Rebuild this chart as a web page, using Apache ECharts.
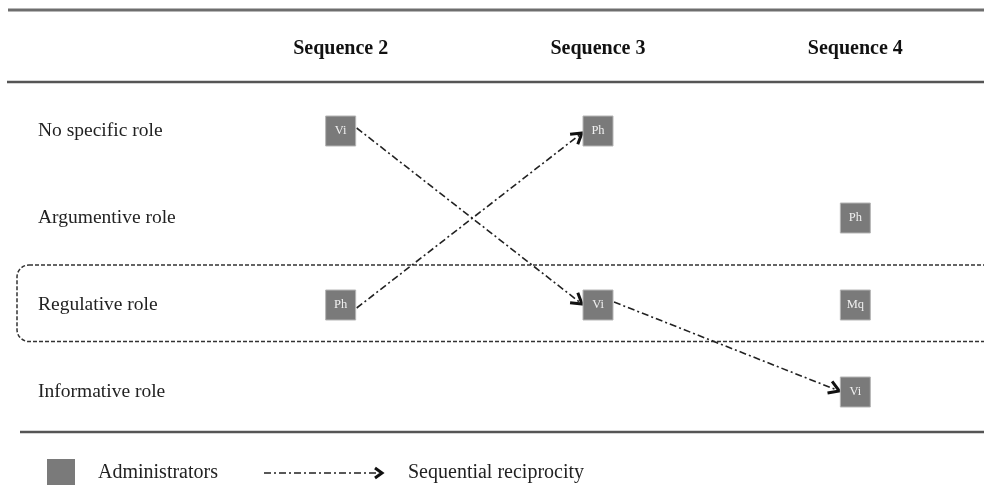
<!DOCTYPE html>
<html>
<head>
<meta charset="utf-8">
<script src="https://cdn.jsdelivr.net/npm/echarts@6/dist/echarts.min.js"></script>
<style>
html,body{margin:0;padding:0;background:#fff;}
#chart{width:984px;height:485px;}
</style>
</head>
<body>
<div id="chart"></div>
<script>
// ---- data ----
var sequences = ['Sequence 2', 'Sequence 3', 'Sequence 4'];
var roles = ['No specific role', 'Argumentive role', 'Regulative role', 'Informative role'];
// administrators: [sequence, role, code]
var administrators = [
  ['Sequence 2', 'No specific role', 'Vi'],
  ['Sequence 3', 'No specific role', 'Ph'],
  ['Sequence 4', 'Argumentive role', 'Ph'],
  ['Sequence 2', 'Regulative role', 'Ph'],
  ['Sequence 3', 'Regulative role', 'Vi'],
  ['Sequence 4', 'Regulative role', 'Mq'],
  ['Sequence 4', 'Informative role', 'Vi']
];
// sequential reciprocity: [fromSeq, fromRole, toSeq, toRole]
var reciprocity = [
  ['Sequence 2', 'No specific role', 'Sequence 3', 'Regulative role'],
  ['Sequence 2', 'Regulative role', 'Sequence 3', 'No specific role'],
  ['Sequence 3', 'Regulative role', 'Sequence 4', 'Informative role']
];
var highlightedRole = 'Regulative role';
var legendLabels = ['Administrators', 'Sequential reciprocity'];

// ---- chart ----
var SERIF = '"Liberation Serif","Times New Roman",serif';
var BOX = 30;
var DASHDOT = [7, 3, 2, 3];
var chart = echarts.init(document.getElementById('chart'));

function chevron(tipX, tipY, ang, len) {
  var a1 = ang + Math.PI - 0.55, a2 = ang + Math.PI + 0.55;
  return [[tipX + len * Math.cos(a1), tipY + len * Math.sin(a1)], [tipX, tipY], [tipX + len * Math.cos(a2), tipY + len * Math.sin(a2)]];
}

chart.setOption({
  animation: false,
  backgroundColor: '#fff',
  grid: { left: 212, width: 775, top: 87.5, height: 348, containLabel: false },
  xAxis: {
    type: 'category', data: sequences, position: 'top', boundaryGap: true,
    axisLine: { show: false }, axisTick: { show: false }, splitLine: { show: false },
    axisLabel: { margin: 29, fontFamily: SERIF, fontWeight: 'bold', fontSize: 20, color: '#111' }
  },
  yAxis: {
    type: 'category', data: roles, inverse: true, boundaryGap: true,
    axisLine: { show: false }, axisTick: { show: false }, splitLine: { show: false },
    axisLabel: { margin: 174, align: 'left', fontFamily: SERIF, fontSize: 19.5, color: '#222' }
  },
  series: [
    {
      type: 'custom',
      name: 'highlight',
      data: [[highlightedRole]],
      encode: { y: 0 },
      renderItem: function (params, api) {
        var p = api.coord([0, api.value(0)]);
        var band = api.size([0, 1])[1];
        return {
          type: 'rect',
          shape: { x: 17, y: p[1] - band * 0.46, width: 1000, height: band * 0.88, r: 12 },
          style: { fill: 'none', stroke: '#333', lineWidth: 1.5, lineDash: [4, 2] },
          silent: true
        };
      },
      z: 1
    },
    {
      type: 'custom',
      name: legendLabels[1],
      data: reciprocity,
      encode: { x: [0, 2], y: [1, 3] },
      renderItem: function (params, api) {
        var s = api.coord([api.value(0), api.value(1)]);
        var t = api.coord([api.value(2), api.value(3)]);
        var x1 = s[0] + BOX / 2 + 1, y1 = s[1] + (t[1] > s[1] ? -3 : 3);
        var x2 = t[0] - BOX / 2 - 1, y2 = t[1] + (t[1] > s[1] ? -1 : 2);
        var ang = Math.atan2(y2 - y1, x2 - x1);
        return {
          type: 'group',
          children: [
            { type: 'line', shape: { x1: x1, y1: y1, x2: x2, y2: y2 },
              style: { stroke: '#222', lineWidth: 1.6, lineDash: DASHDOT } },
            { type: 'polyline', shape: { points: chevron(x2, y2, ang, 12) },
              style: { stroke: '#111', lineWidth: 3, fill: 'none' } }
          ]
        };
      },
      z: 3
    },
    {
      type: 'scatter',
      name: legendLabels[0],
      data: administrators,
      encode: { x: 0, y: 1 },
      symbol: 'rect',
      symbolSize: BOX,
      itemStyle: { color: '#7a7a7a', opacity: 1, borderColor: '#b5b5b5', borderWidth: 1 },
      label: {
        show: true, position: 'inside', fontFamily: SERIF, fontSize: 12.5, color: '#f0f0f0',
        formatter: function (p) { return p.value[2]; }
      },
      z: 4
    }
  ],
  graphic: [
    { type: 'line', shape: { x1: 8, y1: 10, x2: 984, y2: 10 }, style: { stroke: '#6e6e6e', lineWidth: 3 } },
    { type: 'line', shape: { x1: 7, y1: 82, x2: 984, y2: 82 }, style: { stroke: '#555', lineWidth: 2.5 } },
    { type: 'line', shape: { x1: 20, y1: 432, x2: 984, y2: 432 }, style: { stroke: '#555', lineWidth: 2.5 } },
    { type: 'rect', shape: { x: 47, y: 459, width: 28, height: 28 }, style: { fill: '#7a7a7a' } },
    { type: 'text', left: 98, top: 463, style: { text: legendLabels[0], font: '20px ' + SERIF, fill: '#222' } },
    { type: 'line', shape: { x1: 264, y1: 473, x2: 378, y2: 473 }, style: { stroke: '#222', lineWidth: 1.6, lineDash: DASHDOT } },
    { type: 'polyline', shape: { points: [[375, 468], [382, 473], [375, 478]] }, style: { stroke: '#111', lineWidth: 3, fill: 'none' } },
    { type: 'text', left: 408, top: 463, style: { text: legendLabels[1], font: '20px ' + SERIF, fill: '#222' } }
  ]
});
</script>
</body>
</html>
